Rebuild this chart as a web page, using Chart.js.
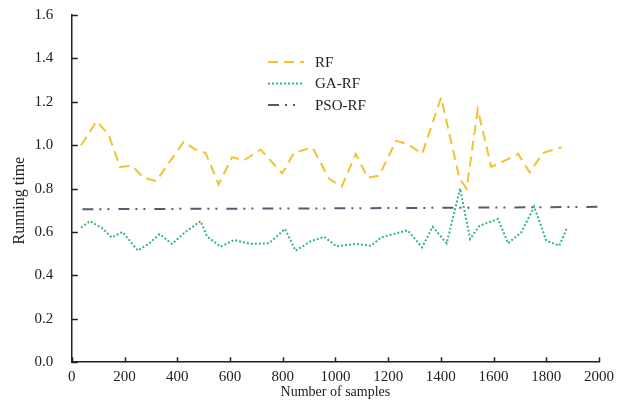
<!DOCTYPE html>
<html>
<head>
<meta charset="utf-8">
<script src="https://cdn.jsdelivr.net/npm/chart.js@4/dist/chart.umd.min.js"></script>
<style>
	html, body { margin: 0; padding: 0; background: #fff; }
	#wrap { width: 617px; height: 403px; }
</style>
</head>
<body>
<div id="wrap"><canvas id="myChart" width="617" height="403"></canvas></div>
<script>
// values
const rfX = [35, 94, 139, 183, 228, 272, 320, 424, 469, 507, 557, 608, 653, 716, 798, 843, 913, 976, 1024, 1077, 1122, 1166, 1230, 1274, 1329, 1401, 1471, 1498, 1540, 1591, 1645, 1693, 1737, 1788, 1858];
const rfY = [1.00, 1.11, 1.05, 0.90, 0.905, 0.85, 0.835, 1.015, 0.98, 0.965, 0.82, 0.945, 0.93, 0.98, 0.87, 0.965, 0.99, 0.845, 0.81, 0.96, 0.85, 0.86, 1.02, 1.005, 0.96, 1.22, 0.845, 0.80, 1.165, 0.90, 0.93, 0.96, 0.875, 0.965, 0.99];

const gaX = [35, 69, 113, 151, 192, 250, 291, 333, 380, 431, 488, 513, 564, 615, 678, 748, 809, 849, 906, 957, 1004, 1077, 1135, 1173, 1230, 1274, 1329, 1369, 1422, 1473, 1511, 1547, 1617, 1655, 1705, 1754, 1800, 1849, 1879];
const gaY = [0.62, 0.65, 0.62, 0.575, 0.60, 0.515, 0.545, 0.59, 0.545, 0.60, 0.65, 0.58, 0.532, 0.563, 0.545, 0.548, 0.614, 0.514, 0.557, 0.578, 0.534, 0.545, 0.537, 0.575, 0.594, 0.608, 0.529, 0.624, 0.548, 0.80, 0.568, 0.629, 0.66, 0.548, 0.598, 0.717, 0.56, 0.537, 0.621];

const psoX = [40, 500, 1000, 1500, 2000];
const psoY = [0.705, 0.707, 0.709, 0.712, 0.716];

const xTicks = [0, 200, 400, 600, 800, 1000, 1200, 1400, 1600, 1800, 2000];
const yTicks = [0.0, 0.2, 0.4, 0.6, 0.8, 1.0, 1.2, 1.4, 1.6];

const toPoints = (xs, ys) => xs.map((x, i) => ({ x: x, y: ys[i] }));

const serif = "'Liberation Serif', 'DejaVu Serif', serif";
const axisColor = '#222';

// short ticks pointing into the plot, like the original
const innerTicks = {
	id: 'innerTicks',
	afterDraw(chart) {
		const ctx = chart.ctx;
		const xs = chart.scales.x, ys = chart.scales.y;
		const a = chart.chartArea;
		ctx.save();
		ctx.strokeStyle = axisColor;
		ctx.lineWidth = 1.5;
		ctx.beginPath();
		xTicks.forEach(v => {
			const px = Math.round(xs.getPixelForValue(v)) + 0.5;
			ctx.moveTo(px, a.bottom);
			ctx.lineTo(px, a.bottom - 5);
		});
		yTicks.forEach(v => {
			const py = Math.round(ys.getPixelForValue(v)) + 0.5;
			ctx.moveTo(a.left, py);
			ctx.lineTo(a.left + 6, py);
		});
		ctx.stroke();
		ctx.restore();
	}
};

// legend drawn as a vertical list inside the plot
const innerLegend = {
	id: 'innerLegend',
	afterDraw(chart) {
		const ctx = chart.ctx;
		ctx.save();
		ctx.font = '15px ' + serif;
		ctx.textBaseline = 'middle';
		chart.data.datasets.forEach((ds, i) => {
			const y = 62 + i * 21.5;
			ctx.strokeStyle = ds.borderColor;
			ctx.lineWidth = ds.borderWidth;
			ctx.setLineDash(ds.borderDash || []);
			ctx.beginPath();
			ctx.moveTo(268, y);
			ctx.lineTo(304, y);
			ctx.stroke();
			ctx.setLineDash([]);
			ctx.fillStyle = '#222';
			ctx.fillText(ds.label, 315, y + 1);
		});
		ctx.restore();
	}
};

new Chart(document.getElementById('myChart'), {
	type: 'line',
	data: {
		datasets: [{
			label: 'RF',
			data: toPoints(rfX, rfY),
			borderColor: '#F2C230',
			borderWidth: 2,
			borderDash: [10, 6],
			pointRadius: 0,
			tension: 0
		}, {
			label: 'GA-RF',
			data: toPoints(gaX, gaY),
			borderColor: '#35B679',
			borderWidth: 2,
			borderDash: [2, 2],
			pointRadius: 0,
			tension: 0
		}, {
			label: 'PSO-RF',
			data: toPoints(psoX, psoY),
			borderColor: '#5C5872',
			borderWidth: 2,
			borderDash: [11, 6, 2, 6, 2, 9],
			pointRadius: 0,
			tension: 0
		}]
	},
	options: {
		responsive: false,
		animation: false,
		layout: { padding: { left: 9, right: 18, top: 15, bottom: 2 } },
		plugins: {
			legend: { display: false },
			tooltip: { enabled: false }
		},
		scales: {
			x: {
				type: 'linear',
				min: 0,
				max: 2000,
				afterBuildTicks: (s) => { s.ticks = xTicks.map(v => ({ value: v })); },
				afterFit: (s) => { s.paddingLeft = 0; s.paddingRight = 0; },
				grid: { display: false, drawTicks: false },
				border: { display: true, color: axisColor, width: 1.5 },
				ticks: { color: '#222', font: { family: serif, size: 15 }, padding: 6, maxRotation: 0, callback: (v) => String(v) },
				title: { display: true, text: 'Number of samples', color: '#222', font: { family: serif, size: 14 }, padding: { top: -8, bottom: 0 } }
			},
			y: {
				min: 0,
				max: 1.6,
				afterBuildTicks: (s) => { s.ticks = yTicks.map(v => ({ value: v })); },
				afterFit: (s) => { s.paddingTop = 0; s.paddingBottom = 0; },
				grid: { display: false, drawTicks: false },
				border: { display: true, color: axisColor, width: 1.5 },
				ticks: { color: '#222', font: { family: serif, size: 15 }, padding: 18.5, callback: (v) => v.toFixed(1) },
				// trailing spaces push the rotated title a little lower, as in the original
				title: { display: true, text: 'Running time      ', color: '#222', font: { family: serif, size: 16 }, padding: { top: 1.4, bottom: -13.5 } }
			}
		}
	},
	plugins: [innerTicks, innerLegend]
});
</script>
</body>
</html>
